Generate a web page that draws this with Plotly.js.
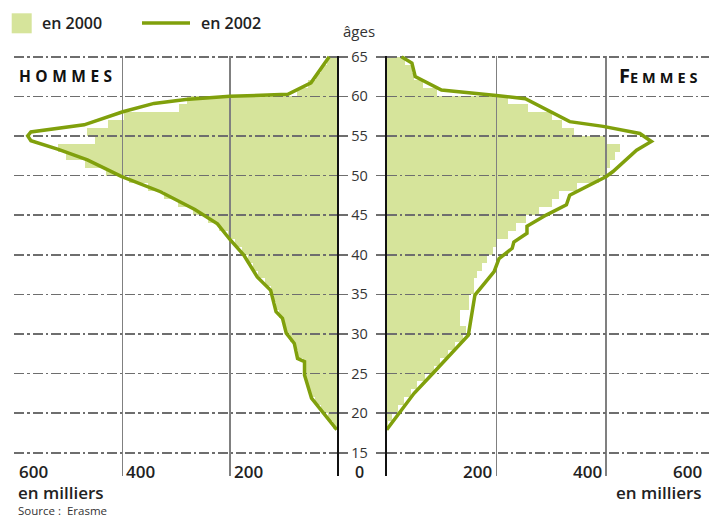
<!DOCTYPE html>
<html><head><meta charset="utf-8">
<script src="https://cdn.plot.ly/plotly-3.0.1.min.js"></script>
<style>html,body{margin:0;padding:0;background:#fff}#chart{width:709px;height:517px}</style>
</head><body><div id="chart"></div>
<script>
// ---- data ----
const barAges = [64,63,62,61,60,59,58,57,56,55,54,53,52,51,50,49,48,47,46,45,44,43,42,41,40,39,38,37,36,35,34,33,32,31,30,29,28,27,26,25,24,23,22,21,20,19,18];
const menBars2000 = [20,30,40,55,75,280,294,396,426,465,450,519,505,470,430,388,352,322,296,268,240,220,204,190,178,167,157,147,135,123,118,114,108,100,95,88,79,74,64,61,59,55,50,42,30,18,8];
const womenBars2000 = [33,47,50,66,92,221,258,301,320,341,398,425,416,407,402,388,347,314,302,278,254,236,221,200,194,183,174,165,159,159,150,150,134,134,145,140,125,112,98,86,70,56,44,32,20,10,3];
const menLineAges2002 = [65,61.7,60.25,60.0,59.6,59.1,58.05,57.0,56.4,55.5,55.0,54.4,53.3,51.96,49.9,47.95,45.7,43.9,41.86,39.96,37.2,35.5,32.8,31.97,30.1,28.8,26.9,26.5,24.8,21.9,17.9];
const menLine2002 = [15,49,92,200,282,341,399,447,471,570,576,570,519,465,402,329,265,223,199,174,149,124,114,102,95,80,74,61,61,48,1];
const womenLineAges2002 = [65,64.2,62.5,60.8,60.1,59.7,56.8,56.2,55.3,54.3,53.2,50.5,49.85,47.5,46.3,45.0,43.6,42.7,41.6,40.8,39.5,37.85,34.9,29.85,25,22.5,17.9];
const womenLine2002 = [27,46,52,100,200,253,334,395,462,483,456,413,400,334,328,291,256,256,232,229,205,196,161,149,84,50,0];
const ageTicks = [15,20,25,30,35,40,45,50,55,60,65];
const leftValueTicks = [600,400,200];
const leftValueLabels = ['600','400','200'];
const rightValueTicks = [200,400,600];
const rightValueLabels = ['200','400','600'];

// ---- style ----
const FILL = '#d6e49b', LINE = '#80a00c', GRID = '#6e6e6e';
const FONT = 'Open Sans, Noto Sans, DejaVu Sans, sans-serif';
const W = 709, H = 517;
const py = p => 1 - p / H, px = p => p / W;
const yDom = [0.07994, 0.89263];
const xL = [0.01975, 0.47574], xR = [0.54542, 1];
const yRange = [12.1, 65.15];
const xLRange = [601.5, 0], xRRange = [0, 588.2];

const traces = [
  {type:'bar', orientation:'h', x:menBars2000, y:barAges, width:1, offset:0, xaxis:'x', yaxis:'y',
   marker:{color:FILL, line:{width:0}}, hoverinfo:'skip'},
  {type:'bar', orientation:'h', x:womenBars2000, y:barAges, width:1, offset:0, xaxis:'x2', yaxis:'y2',
   marker:{color:FILL, line:{width:0}}, hoverinfo:'skip'},
  {type:'scatter', mode:'lines', x:menLine2002, y:menLineAges2002, xaxis:'x3', yaxis:'y3',
   line:{color:LINE, width:3.5}},
  {type:'scatter', mode:'lines', x:womenLine2002, y:womenLineAges2002, xaxis:'x4', yaxis:'y4',
   line:{color:LINE, width:3.5}}
];

const hidden = {visible:false, fixedrange:true};
const gridX = {showgrid:true, gridcolor:'#808080', gridwidth:1.5, tickmode:'array', showticklabels:false,
  ticks:'', zeroline:false, showline:false};
const gridY = {showgrid:true, gridcolor:GRID, gridwidth:1.6, griddash:'10px,3px,2.5px,3px',
  tickmode:'array', tickvals:ageTicks, ticks:'outside', ticklen:9, tickwidth:1.6, tickcolor:GRID,
  showline:true, linecolor:'#111', linewidth:2, zeroline:false, range:yRange, domain:yDom,
  tickfont:{family:FONT, size:14.5, color:'#333'}};

const annotations = [];
leftValueTicks.forEach((v,i) => annotations.push({xref:'x3', yref:'paper', x:v, y:py(471), xanchor:'left', yanchor:'middle',
  xshift:2, text:leftValueLabels[i], showarrow:false, font:{family:FONT, size:17, color:'#222', weight:600}}));
rightValueTicks.forEach((v,i) => {
  const inRange = v <= xRRange[1];
  annotations.push({xref: inRange ? 'x4' : 'paper', yref:'paper', x: inRange ? v : 1, y:py(471), xanchor:'right', yanchor:'middle',
    xshift: inRange ? -2 : -5, text:rightValueLabels[i], showarrow:false, font:{family:FONT, size:17, color:'#222', weight:600}});
});
annotations.push(
  {xref:'paper', yref:'paper', x:px(359), y:py(472), xanchor:'center', yanchor:'middle', text:'0', showarrow:false,
   font:{family:FONT, size:16, color:'#222', weight:600}},
  {xref:'paper', yref:'paper', x:px(359), y:py(31), xanchor:'center', yanchor:'middle', text:'âges', showarrow:false,
   font:{family:FONT, size:15, color:'#333'}},
  {xref:'paper', yref:'paper', x:px(16), y:py(492), xanchor:'left', yanchor:'middle', text:'en milliers', showarrow:false,
   font:{family:FONT, size:17, color:'#222', weight:600}},
  {xref:'paper', yref:'paper', x:1, xshift:-5, y:py(492), xanchor:'right', yanchor:'middle', text:'en milliers', showarrow:false,
   font:{family:FONT, size:17, color:'#222', weight:600}},
  {xref:'paper', yref:'paper', x:px(16), y:py(510), xanchor:'left', yanchor:'middle', text:'Source :  Erasme', showarrow:false,
   font:{family:FONT, size:11.5, color:'#333'}},
  {xref:'paper', yref:'paper', x:px(17), y:py(76), xanchor:'left', yanchor:'middle',
   text:'<span style="letter-spacing:4.5px">HOMMES</span>', showarrow:false,
   font:{family:FONT, size:15.5, color:'#111', weight:'bold'}},
  {xref:'paper', yref:'paper', x:px(704), y:py(76), xanchor:'right', yanchor:'middle',
   text:'<span style="font-size:20px">F</span><span style="letter-spacing:4px">EMMES</span>', showarrow:false,
   font:{family:FONT, size:14.5, color:'#111', weight:'bold'}},
  {xref:'paper', yref:'paper', x:px(40), y:py(23), xanchor:'left', yanchor:'middle', text:'en 2000', showarrow:false,
   font:{family:FONT, size:16, color:'#222', weight:600}},
  {xref:'paper', yref:'paper', x:px(199), y:py(23), xanchor:'left', yanchor:'middle', text:'en 2002', showarrow:false,
   font:{family:FONT, size:16, color:'#222', weight:600}}
);

const shapes = [
  {type:'rect', xref:'paper', yref:'paper', x0:px(11.7), x1:px(31.7), y0:py(33.3), y1:py(13.3), fillcolor:FILL, line:{width:0}},
  {type:'line', xref:'paper', yref:'paper', x0:px(142), x1:px(190), y0:py(23), y1:py(23), line:{color:LINE, width:3.5}}
];

const layout = {
  width:W, height:H, margin:{l:0, r:0, t:0, b:0}, paper_bgcolor:'#ffffff', plot_bgcolor:'rgba(0,0,0,0)', showlegend:false,
  bargap:0,
  xaxis: Object.assign({domain:xL, range:xLRange, anchor:'y'}, hidden),
  yaxis: Object.assign({domain:yDom, range:yRange, anchor:'x'}, hidden),
  xaxis2: Object.assign({domain:xR, range:xRRange, anchor:'y2'}, hidden),
  yaxis2: Object.assign({domain:yDom, range:yRange, anchor:'x2'}, hidden),
  xaxis3: Object.assign({domain:xL, range:xLRange, anchor:'y3', tickvals:leftValueTicks}, gridX),
  yaxis3: Object.assign({anchor:'x3', side:'right'}, gridY),
  xaxis4: Object.assign({domain:xR, range:xRRange, anchor:'y4', tickvals:rightValueTicks}, gridX),
  yaxis4: Object.assign({anchor:'x4', side:'left', showticklabels:false}, gridY),
  annotations:annotations, shapes:shapes
};

Plotly.newPlot('chart', traces, layout, {displayModeBar:false, staticPlot:true});
</script>
</body></html>
